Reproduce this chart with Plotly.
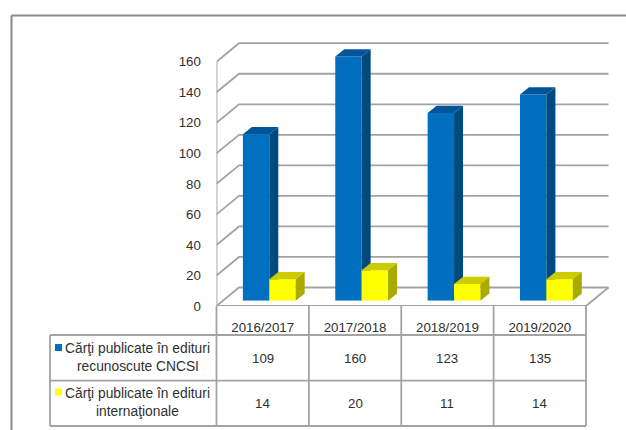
import plotly.graph_objects as go

categories = ["2016/2017", "2017/2018", "2018/2019", "2019/2020"]
series_a_lines = ["Cărţi publicate în edituri", "recunoscute CNCSI"]
series_b_lines = ["Cărţi publicate în edituri", "internaţionale"]
series_a = [109, 160, 123, 135]
series_b = [14, 20, 11, 14]
y_ticks = [0, 20, 40, 60, 80, 100, 120, 140, 160]

W, H = 626, 430
GRAY = "#a3a3a3"
TXT = "#303030"
FONT = "Liberation Sans, Arial, sans-serif"
FS = 13.3

# pixel geometry of the front plane
L, R, B, T = 216.5, 586.0, 306.0, 61.7
PX_CAT = (R - L) / len(categories)
PX_UNIT = (B - T) / 160
DOM_R, DOM_T = 616.0, 38.0
xr = [-0.5, -0.5 + (DOM_R - L) / PX_CAT]
yr = [0, (B - DOM_T) / PX_UNIT]
WALL_DX, WALL_DY = 22.5 / PX_CAT, 18.5 / PX_UNIT
BAR_DX, BAR_DY = 9.0 / PX_CAT, 7.2 / PX_UNIT
SHIFT_X, SHIFT_Y = 6.6, 5.3
BAR_W = 26.4 / PX_CAT
px = lambda x: x / W
py = lambda y: 1 - y / H

fig = go.Figure()

# walls on the front axes
xl, xh = -0.5, len(categories) - 0.5
wx, wy = [], []
for t in y_ticks:
    wx += [xl, xl + WALL_DX, xh + WALL_DX, None]
    wy += [t, t + WALL_DY, t + WALL_DY, None]
wx += [xl, xl, None, xl, xh, xh + WALL_DX]
wy += [0, 160, None, 0, 0, WALL_DY]
fig.add_trace(go.Scatter(x=wx, y=wy, mode="lines", line=dict(color=GRAY, width=1.8),
                         hoverinfo="skip", showlegend=False, xaxis="x", yaxis="y"))


def add_series(name, values, offset, front, top, side, xa, ya):
    xs = list(range(len(values)))
    fig.add_trace(go.Bar(x=xs, y=values, name=name, width=BAR_W, offset=offset,
                         marker=dict(color=front, line=dict(width=0)),
                         showlegend=False, xaxis=xa, yaxis=ya))
    for x, v in zip(xs, values):
        x0, x1 = x + offset, x + offset + BAR_W
        fig.add_trace(go.Scatter(
            x=[x0, x0 + BAR_DX, x1 + BAR_DX, x1, x0],
            y=[v, v + BAR_DY, v + BAR_DY, v, v],
            fill="toself", fillcolor=top, mode="none", hoverinfo="skip",
            showlegend=False, xaxis=xa, yaxis=ya))
        fig.add_trace(go.Scatter(
            x=[x1, x1 + BAR_DX, x1 + BAR_DX, x1, x1],
            y=[v, v + BAR_DY, BAR_DY, 0, v],
            fill="toself", fillcolor=side, mode="none", hoverinfo="skip",
            showlegend=False, xaxis=xa, yaxis=ya))


add_series(" ".join(series_a_lines), series_a, -BAR_W, "#006FC0", "#00559A", "#004A80", "x2", "y2")
add_series(" ".join(series_b_lines), series_b, 0, "#FFFF00", "#CCCC00", "#AAAA00", "x3", "y3")

hidden = dict(visible=False, fixedrange=True, automargin=False)
dom2x = [px(L + SHIFT_X), px(DOM_R + SHIFT_X)]
dom2y = [py(B - SHIFT_Y), py(DOM_T - SHIFT_Y)]
layout = dict(
    width=W, height=H, margin=dict(l=0, r=0, t=0, b=0, pad=0), autosize=False,
    paper_bgcolor="white", plot_bgcolor="rgba(0,0,0,0)", showlegend=False,
    font=dict(family=FONT, size=FS, color=TXT),
    xaxis=dict(domain=[px(L), px(DOM_R)], range=xr, tickmode="array", automargin=False,
               tickvals=list(range(len(categories))), ticktext=categories,
               ticks="outside", ticklen=9, tickcolor="rgba(0,0,0,0)",
               showgrid=False, zeroline=False, showline=False, anchor="y"),
    yaxis=dict(domain=[py(B), py(DOM_T)], range=yr, tickmode="array", automargin=False,
               tickvals=y_ticks, ticks="outside", ticklen=12, tickcolor="rgba(0,0,0,0)",
               showgrid=False, zeroline=False, showline=False, anchor="x"),
    xaxis2=dict(domain=dom2x, range=xr, anchor="y2", **hidden),
    yaxis2=dict(domain=dom2y, range=yr, anchor="x2", **hidden),
    xaxis3=dict(domain=dom2x, range=xr, anchor="y3", **hidden),
    yaxis3=dict(domain=dom2y, range=yr, anchor="x3", **hidden),
)
fig.update_layout(**layout)


def seg(x0, y0, x1, y1, color=GRAY, width=1.8):
    fig.add_shape(type="line", xref="paper", yref="paper", x0=px(x0), y0=py(y0), x1=px(x1), y1=py(y1),
                  line=dict(color=color, width=width), layer="below")


# outer frame
seg(11.5, 15.5, W, 15.5, "#8a8a8a", 2)
seg(11.5, 15.5, 11.5, H, "#8a8a8a", 2)

# data table
TL = 50.0
rows = [335.0, 380.7, 426.0]
cols = [L + i * PX_CAT for i in range(len(categories) + 1)]
seg(L, B, L, rows[-1])
for c in cols[1:]:
    seg(c, B, c, rows[-1])
seg(TL, rows[0], TL, rows[-1])
for r_ in rows:
    seg(TL, r_, R, r_)


def label(x, y, s, size=FS):
    fig.add_annotation(xref="paper", yref="paper", x=px(x), y=py(y), text=s, showarrow=False,
                       xanchor="center", yanchor="middle", borderpad=0, font=dict(size=size, color=TXT, family=FONT))


for i, (a, b) in enumerate(zip(series_a, series_b)):
    cx = L + (i + 0.5) * PX_CAT
    label(cx, 358, str(a))
    label(cx, 403, str(b))

label(137.5, 348, series_a_lines[0], 13.8)
label(137.5, 366.5, series_a_lines[1], 13.8)
label(137.5, 393, series_b_lines[0], 13.8)
label(137.5, 411, series_b_lines[1], 13.8)
for y0, col in ((344, "#006FC0"), (388.5, "#FFFF00")):
    fig.add_shape(type="rect", xref="paper", yref="paper", x0=px(55), x1=px(62), y0=py(y0), y1=py(y0 + 7),
                  fillcolor=col, line=dict(width=0))

fig.write_html("out.html", config=dict(displayModeBar=False),
               post_script="document.body.style.margin='0';document.documentElement.style.overflow='hidden';")
